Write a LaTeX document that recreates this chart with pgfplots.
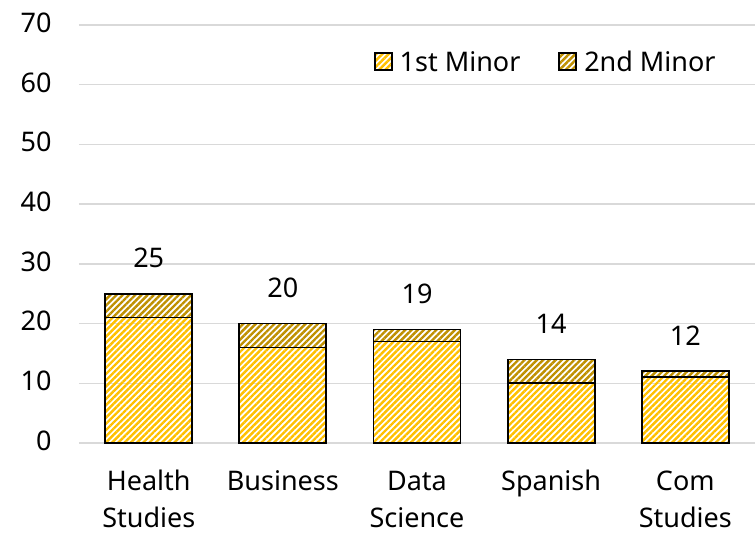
\documentclass[border=0pt]{standalone}
\usepackage{pgfplots}
\pgfplotsset{compat=1.18}
\usepackage{pgfplotstable}
\usepackage{fontspec}
\setmainfont{Noto Sans}
\usetikzlibrary{patterns.meta}
\definecolor{gold1}{HTML}{FFC000}
\definecolor{gold2}{HTML}{BF9000}
\definecolor{gridc}{HTML}{D9D9D9}
\pgfplotstableread{
x first second total
0 21 4 25
1 16 4 20
2 17 2 19
3 10 4 14
4 11 1 12
}\datatable
\pgfplotsset{common/.style={
  scale only axis,
  width=676bp, height=418bp,
  xmin=-0.52, xmax=4.52,
  ymin=0, ymax=70,
  clip=false,
  /pgf/number format/assume math mode=true,
}}
\begin{document}
\begin{tikzpicture}[font=\fontsize{27bp}{37bp}\selectfont]
\useasboundingbox (-79bp,-93bp) rectangle (676bp,443bp);
\begin{axis}[
  common,
  ybar stacked,
  bar width=87bp,
  ytick={0,10,...,70},
  xtick=data,
  xticklabels={Health\\Studies, Business, Data\\Science, Spanish, Com\\Studies},
  typeset ticklabels with strut,
  xticklabel style={align=center, yshift=-18bp},
  yticklabel style={xshift=-24bp},
  axis line style={draw=none},
  axis x line*=bottom,
  x axis line style={draw=gridc, line width=1.5bp},
  major tick length=0pt,
  ymajorgrids,
  grid style={gridc, line width=1.5bp},
  legend style={draw=none, fill=none, at={(0.945,0.911)}, anchor=east, inner sep=0pt, legend columns=2,
    /tikz/every odd column/.append style={column sep=5bp},
    /tikz/every even column/.append style={column sep=36bp}},
  legend image code/.code={\draw[#1] (0bp,-8bp) rectangle (17bp,9bp);},
]
\addplot[draw=black, line width=1.8bp, pattern={Lines[angle=45,distance=4.4bp,line width=2.4bp]}, pattern color=gold1]
  table[x=x, y=first] {\datatable};
\addlegendentry{1st Minor}
\addplot[draw=black, line width=1.8bp, pattern={Lines[angle=45,distance=4.4bp,line width=2.4bp]}, pattern color=gold2]
  table[x=x, y=second] {\datatable};
\addlegendentry{2nd Minor}
\end{axis}
\begin{axis}[
  common,
  hide axis,
]
\addplot[draw=none, mark=none, point meta=explicit, nodes near coords,
  nodes near coords style={anchor=center, yshift=36bp, text=black, font=\fontsize{27bp}{37bp}\selectfont}]
  table[x=x, y=total, meta=total] {\datatable};
\end{axis}
\end{tikzpicture}
\end{document}
